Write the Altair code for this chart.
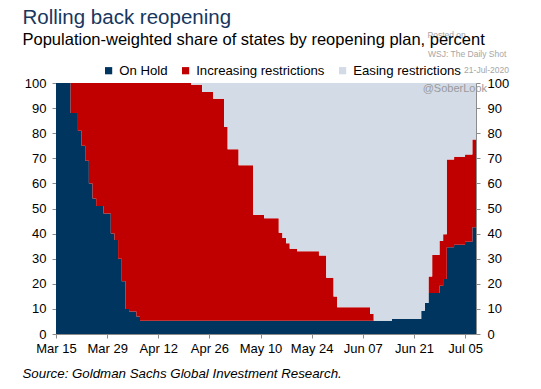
import altair as alt
import pandas as pd

FONT = "Liberation Sans"

# Dates at which any series changes (step-after), last row closes the final step
step_dates = ["2020-03-15", "2020-03-19", "2020-03-21", "2020-03-22", "2020-03-23", "2020-03-24",
              "2020-03-25", "2020-03-26", "2020-03-28", "2020-03-30", "2020-03-31", "2020-04-01",
              "2020-04-02", "2020-04-03", "2020-04-04", "2020-04-06", "2020-04-07", "2020-04-21",
              "2020-04-24", "2020-04-27", "2020-04-30", "2020-05-01", "2020-05-04", "2020-05-08",
              "2020-05-11", "2020-05-15", "2020-05-16", "2020-05-17", "2020-05-18", "2020-05-20",
              "2020-05-26", "2020-05-28", "2020-05-30", "2020-05-31", "2020-06-09", "2020-06-10",
              "2020-06-15", "2020-06-23", "2020-06-24", "2020-06-25", "2020-06-26", "2020-06-28",
              "2020-06-29", "2020-06-30", "2020-07-02", "2020-07-05", "2020-07-07", "2020-07-08"]

on_hold = [100, 88, 81, 75, 69, 60, 54, 51, 48, 40, 37.5, 30, 21, 10, 9, 7,
           5.3, 5.3, 5.3, 5.3, 5.3, 5.3, 5.3, 5.3, 5.3, 5.3, 5.3, 5.3, 5.3, 5.3,
           5.3, 5.3, 5.3, 5.3, 5.3, 5.3,
           6.0, 9.3, 12.4, 16.3, 16.3, 19.2, 21.9, 34.6, 35.6, 36.8, 42.5, 42.5]

increasing = [0, 12, 19, 25, 31, 40, 46, 49, 52, 60, 62.5, 70, 79, 90, 91, 93,
              94.7, 94.0, 91.1, 88.4, 77.3, 68.3, 61.9, 42.1, 40.8, 35.0, 32.9, 30.9, 28.7, 27.7,
              26.0, 17.1, 9.6, 5.4, 2.7, 0,
              0, 0, 0, 6.6, 15.2, 17.9, 17.8, 34.9, 35.0, 34.7, 35.0, 35.0]

easing = [0, 0, 0, 0, 0, 0, 0, 0, 0, 0, 0, 0, 0, 0, 0, 0,
          0, 0.7, 3.6, 6.3, 17.4, 26.4, 32.8, 52.6, 53.9, 59.7, 61.8, 63.8, 66.0, 67.0,
          68.7, 77.6, 85.1, 89.3, 92.0, 94.7,
          94.0, 90.7, 87.6, 77.1, 68.5, 62.9, 60.3, 30.5, 29.4, 28.5, 22.5, 22.5]

series_names = ["On Hold", "Increasing restrictions", "Easing restrictions"]
series_colors = ["#003560", "#C00000", "#D3DBE7"]

x_ticks = ["2020-03-15", "2020-03-29", "2020-04-12", "2020-04-26", "2020-05-10",
           "2020-05-24", "2020-06-07", "2020-06-21", "2020-07-05"]
y_ticks = [0, 10, 20, 30, 40, 50, 60, 70, 80, 90, 100]

title_text = "Rolling back reopening"
subtitle_text = "Population-weighted share of states by reopening plan, percent"
source_text = "Source: Goldman Sachs Global Investment Research."


def dt(s):
    y, m, d = (int(p) for p in s.split("-"))
    return alt.DateTime(year=y, month=m, date=d, utc=True)


rows = []
for i, d in enumerate(step_dates):
    lo = 0.0
    for name, vals in zip(series_names, [on_hold, increasing, easing]):
        hi = lo + vals[i]
        rows.append({"date": d, "series": name, "lo": lo, "hi": hi})
        lo = hi
df = pd.DataFrame(rows)

x_scale = alt.Scale(type="utc", domain=[dt(step_dates[0]), dt(step_dates[-1])])
y_scale = alt.Scale(domain=[0, 100], nice=False, zero=True)

axis_common = dict(labelFont=FONT, labelFontSize=13, labelColor="#000000",
                   tickColor="#8c8c8c", domainColor="#8c8c8c", tickSize=4,
                   grid=False, title=None, labelOverlap=False)

areas = alt.Chart(df).mark_area(interpolate="step-after").encode(
    x=alt.X("date:T", scale=x_scale,
            axis=alt.Axis(values=[dt(t) for t in x_ticks], format="%b %d", orient="bottom",
                          labelPadding=4, labelFlush=False, **axis_common)),
    y=alt.Y("hi:Q", scale=y_scale,
            axis=alt.Axis(values=y_ticks, orient="left", labelPadding=6, **axis_common)),
    y2="lo:Q",
    color=alt.Color("series:N",
                    scale=alt.Scale(domain=series_names, range=series_colors),
                    legend=alt.Legend(orient="none", legendX=46, legendY=-19,
                                      direction="horizontal", title=None,
                                      symbolType="square", symbolSize=52,
                                      symbolStrokeWidth=0, labelFont=FONT,
                                      labelFontSize=13.2, labelColor="#000000",
                                      columnPadding=11, labelOffset=4)),
)

right_axis = alt.Chart(df).mark_point(opacity=0).encode(
    y=alt.Y("hi:Q", scale=y_scale,
            axis=alt.Axis(values=y_ticks, orient="right", labelPadding=7, **axis_common)),
)


def label(text, x, y, size, color, align="left", style="normal"):
    return alt.Chart(pd.DataFrame({"t": [text]})).mark_text(
        align=align, baseline="alphabetic", font=FONT, fontSize=size,
        color=color, fontStyle=style,
    ).encode(x=alt.value(x), y=alt.value(y), text="t:N")


texts = [
    label("Posted on", 371.5, -45.5, 8.5, "#a6a6a6"),
    label(title_text, -33.5, -59, 20.5, "#17375E"),
    label(subtitle_text, -33.5, -38.5, 16.5, "#000000"),
    label("WSJ: The Daily Shot", 372, -26, 8.5, "#a6a6a6"),
    label("21-Jul-2020", 453, -9.6, 8.5, "#a6a6a6", align="right"),
    label("@SoberLook", 366.7, 8.5, 11, "#9a9a9a"),
    label(source_text, -33.5, 295, 13.3, "#000000", style="italic"),
]

chart = alt.layer(areas, right_axis, *texts).resolve_axis(y="independent").properties(
    width=420, height=251,
    autosize=alt.AutoSizeParams(type="none"),
    padding={"left": 48, "top": 75, "right": 57, "bottom": 47},
).configure_view(stroke=None).configure(background="#ffffff")

chart.save("out.html", embed_options={"renderer": "svg", "actions": False})
